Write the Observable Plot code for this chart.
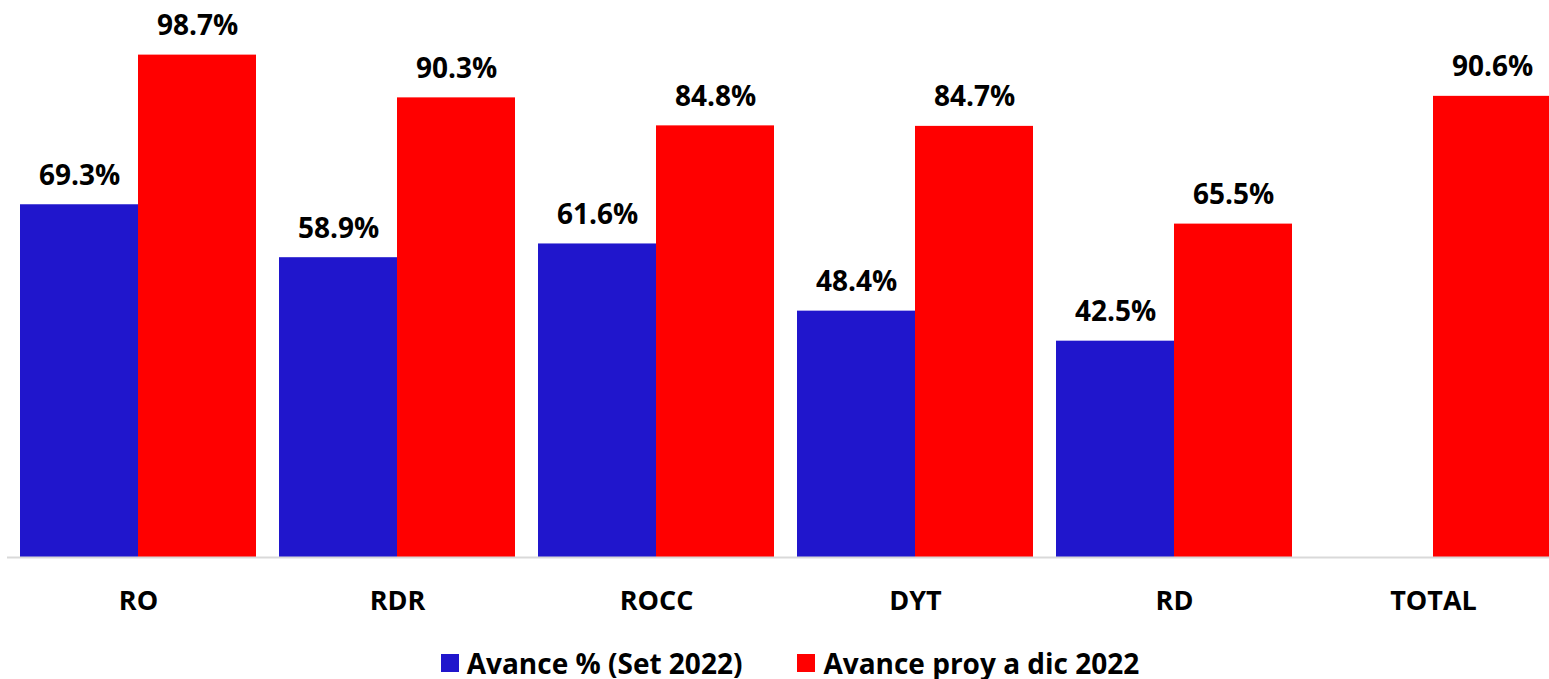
<!DOCTYPE html>
<html>
<head>
<meta charset="utf-8">
<script src="https://cdn.jsdelivr.net/npm/d3@7"></script>
<script src="https://cdn.jsdelivr.net/npm/@observablehq/plot@0.6"></script>
<style>
  body { margin: 0; background: #fff; font-family: "Open Sans", sans-serif; }
  #chart svg { display: block; }
  #legend { display: flex; justify-content: center; align-items: center; gap: 55px; margin-top: 27px;
            font-weight: 700; font-size: 28px; color: #000; line-height: 32px; padding-left: 31px; }
  .item { display: flex; align-items: center; gap: 8px; }
  .sw { width: 18px; height: 18px; display: inline-block; }
</style>
</head>
<body>
<div id="chart"></div>
<div id="legend"></div>
<script>
const categories = ["RO", "RDR", "ROCC", "DYT", "RD", "TOTAL"];
const seriesNames = ["Avance % (Set 2022)", "Avance proy a dic 2022"];
const seriesColors = ["#2016CC", "#FF0000"];
const avanceSet = [69.3, 58.9, 61.6, 48.4, 42.5, null];
const avanceDic = [98.7, 90.3, 84.8, 84.7, 65.5, 90.6];

const dataA = categories.map((c, i) => ({cat: c, v: avanceSet[i]})).filter(d => d.v != null);
const dataB = categories.map((c, i) => ({cat: c, v: avanceDic[i]})).filter(d => d.v != null);

const half = 118;
const font = "Open Sans, sans-serif";

const chart = Plot.plot({
  width: 1549,
  height: 620,
  marginTop: 48,
  marginBottom: 63,
  marginLeft: 7,
  marginRight: 0,
  style: {fontFamily: font, background: "#fff"},
  x: {domain: categories, range: [20, 1551], paddingInner: 0.089, paddingOuter: 0, label: null, tickSize: 0, tickPadding: 33},
  y: {domain: [0, 100], axis: null},
  marks: [
    Plot.barY(dataA, {x: "cat", y: "v", fill: seriesColors[0], insetRight: half, insetLeft: 0}),
    Plot.barY(dataB, {x: "cat", y: "v", fill: seriesColors[1], insetLeft: half, insetRight: 0}),
    Plot.ruleY([0], {stroke: "#d9d9d9", strokeWidth: 2}),
    Plot.text(dataA, {x: "cat", y: "v", text: d => d.v.toFixed(1) + "%", dx: -half / 2, dy: -20, lineAnchor: "bottom", fontSize: 28, fontWeight: 700, fill: "#000"}),
    Plot.text(dataB, {x: "cat", y: "v", text: d => d.v.toFixed(1) + "%", dx: half / 2, dy: -20, lineAnchor: "bottom", fontSize: 28, fontWeight: 700, fill: "#000"})
  ]
});
chart.querySelectorAll("g[aria-label='x-axis tick label'] text, g[aria-label='x-axis'] text").forEach(t => {
  t.setAttribute("font-size", 27); t.setAttribute("font-weight", 700); t.style.fontSize = "27px"; t.style.fontWeight = "700"; t.style.fill = "#000";
});
const ax = chart.querySelector("g[aria-label='x-axis tick label']") || chart.querySelector("g[aria-label='x-axis']");
if (ax) { ax.setAttribute("font-size", 27); ax.setAttribute("font-weight", 700); }
document.getElementById("chart").appendChild(chart);

const legend = document.getElementById("legend");
seriesNames.forEach((n, i) => {
  const item = document.createElement("div");
  item.className = "item";
  const sw = document.createElement("span");
  sw.className = "sw";
  sw.style.background = seriesColors[i];
  const label = document.createElement("span");
  label.textContent = n;
  item.appendChild(sw); item.appendChild(label);
  legend.appendChild(item);
});
</script>
</body>
</html>
